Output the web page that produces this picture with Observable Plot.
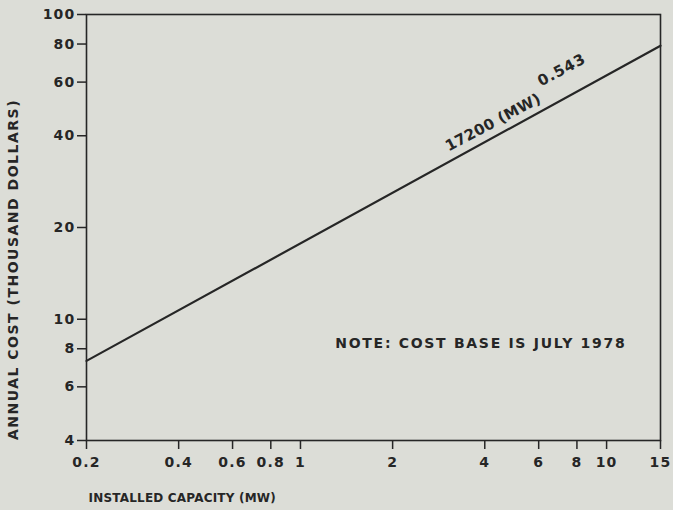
<!DOCTYPE html>
<html>
<head>
<meta charset="utf-8">
<script src="https://cdn.jsdelivr.net/npm/d3@7"></script>
<script src="https://cdn.jsdelivr.net/npm/@observablehq/plot@0.6"></script>
<style>
  html, body { margin: 0; padding: 0; background: #dcddd7; }
  #chart svg { display: block; }
  .xlab, .ylab { letter-spacing: 1.2px; }
  .ytitle { letter-spacing: 1.5px; }
  .xtitle { letter-spacing: 0.2px; }
  .note { letter-spacing: 1.7px; }
  .formula { letter-spacing: 0.3px; }
  .exponent { letter-spacing: 1px; }
</style>
</head>
<body>
<div id="chart"></div>
<script>
// Values
const capacityMW = [0.2, 15];
const annualCostK = [7.3, 79];
const xTicks = [0.2, 0.4, 0.6, 0.8, 1, 2, 4, 6, 8, 10, 15];
const yTicks = [4, 6, 8, 10, 20, 40, 60, 80, 100];
const xTitle = "INSTALLED CAPACITY (MW)";
const yTitle = "ANNUAL COST (THOUSAND DOLLARS)";
const noteText = "NOTE: COST BASE IS JULY 1978";
const formulaText = "17200 (MW)";
const exponentText = "0.543";
// annotation anchor points, in data units
const formulaAt = [3.05, 35.5];
const exponentAt = [6.1, 58];
const noteAt = [1.30, 8.33];

const line = capacityMW.map((x, i) => ({x, y: annualCostK[i]}));
const ink = "#262626";

const chart = Plot.plot({
  width: 673,
  height: 510,
  marginLeft: 86,
  marginRight: 13,
  marginTop: 14,
  marginBottom: 70,
  style: {
    background: "#dcddd7",
    fontFamily: "'DejaVu Sans', sans-serif",
    fontWeight: "bold",
    fontSize: "14px",
    color: ink
  },
  x: {type: "log", domain: [0.2, 15], label: null},
  y: {type: "log", domain: [4, 100], label: null},
  marks: [
    Plot.axisX({ticks: xTicks, tickFormat: () => "", tickSize: 9, tickPadding: 0, stroke: ink, strokeWidth: 1.5, label: null}),
    Plot.axisY({ticks: yTicks, tickFormat: () => "", tickSize: 9, tickPadding: 0, stroke: ink, strokeWidth: 1.5, label: null}),
    Plot.text(xTicks, {x: d => d, text: d => String(d), frameAnchor: "bottom", dy: 22, lineAnchor: "middle", fill: ink, fontSize: 14, className: "xlab"}),
    Plot.text(yTicks, {y: d => d, text: d => String(d), frameAnchor: "left", dx: -11, textAnchor: "end", lineAnchor: "middle", fill: ink, fontSize: 14, className: "ylab"}),
    Plot.frame({stroke: ink, strokeWidth: 1.6}),
    Plot.line(line, {x: "x", y: "y", stroke: ink, strokeWidth: 2.2}),
    Plot.text([formulaText], {x: () => formulaAt[0], y: () => formulaAt[1], text: d => d, rotate: -28, textAnchor: "start", lineAnchor: "bottom", fill: ink, fontSize: 15, className: "formula"}),
    Plot.text([exponentText], {x: () => exponentAt[0], y: () => exponentAt[1], text: d => d, rotate: -28, textAnchor: "start", lineAnchor: "bottom", fill: ink, fontSize: 15, className: "exponent"}),
    Plot.text([noteText], {x: () => noteAt[0], y: () => noteAt[1], text: d => d, textAnchor: "start", lineAnchor: "middle", fill: ink, fontSize: 14, className: "note"}),
    Plot.text([xTitle], {frameAnchor: "bottom-left", text: d => d, textAnchor: "start", lineAnchor: "middle", dx: 2, dy: 58, fill: ink, fontSize: 12, className: "xtitle"}),
    Plot.text([yTitle], {frameAnchor: "left", text: d => d, rotate: -90, textAnchor: "middle", lineAnchor: "middle", dx: -73, dy: 42, fill: ink, fontSize: 14, className: "ytitle"})
  ]
});
document.getElementById("chart").appendChild(chart);
</script>
</body>
</html>
